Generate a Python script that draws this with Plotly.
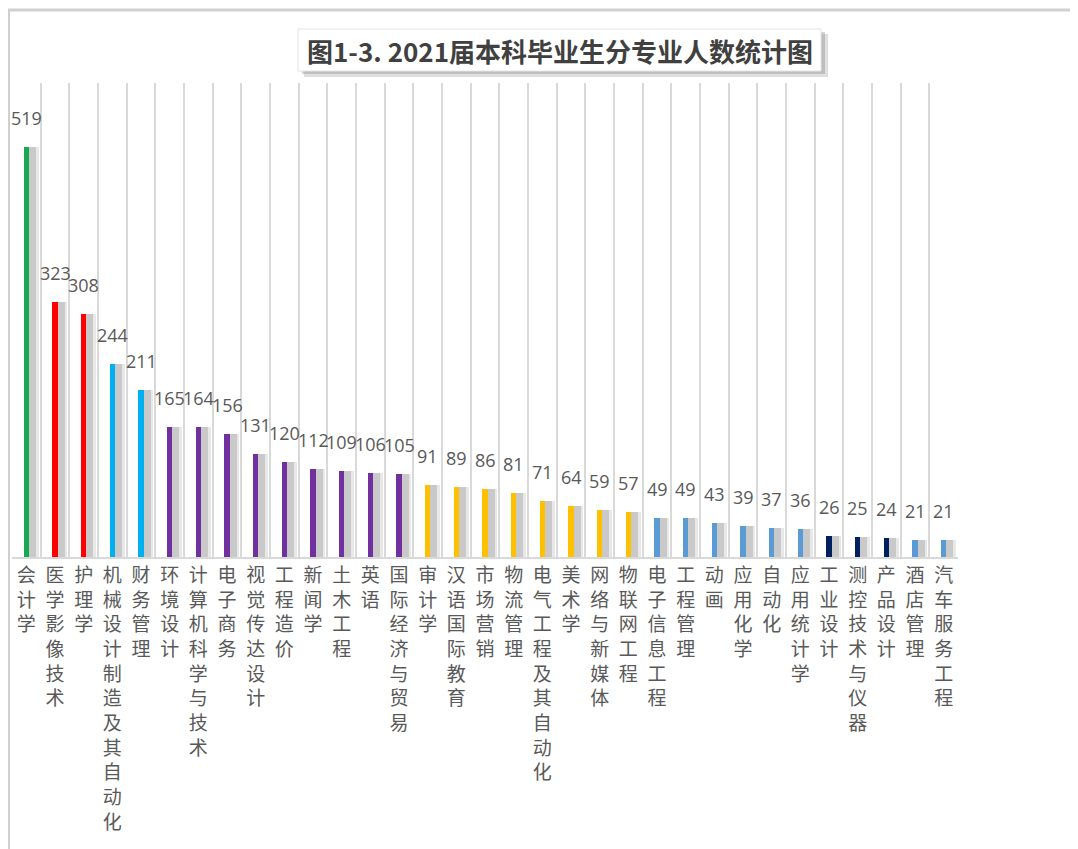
import plotly.graph_objects as go

majors = ["会计学", "医学影像技术", "护理学", "机械设计制造及其自动化", "财务管理", "环境设计",
          "计算机科学与技术", "电子商务", "视觉传达设计", "工程造价", "新闻学", "土木工程", "英语",
          "国际经济与贸易", "审计学", "汉语国际教育", "市场营销", "物流管理", "电气工程及其自动化",
          "美术学", "网络与新媒体", "物联网工程", "电子信息工程", "工程管理", "动画", "应用化学",
          "自动化", "应用统计学", "工业设计", "测控技术与仪器", "产品设计", "酒店管理", "汽车服务工程"]
counts = [519, 323, 308, 244, 211, 165, 164, 156, 131, 120, 112, 109, 106, 105, 91, 89, 86, 81,
          71, 64, 59, 57, 49, 49, 43, 39, 37, 36, 26, 25, 24, 21, 21]
groups = ["g", "r", "r", "c", "c", "p", "p", "p", "p", "p", "p", "p", "p", "p",
          "y", "y", "y", "y", "y", "y", "y", "y",
          "b", "b", "b", "b", "b", "b", "n", "n", "n", "b", "b"]
group_colors = {"g": "#17a851", "r": "#ff0000", "c": "#00b0f0", "p": "#7030a0",
                "y": "#ffc000", "b": "#5b9bd5", "n": "#002060"}
title_text = "图1-3. 2021届本科毕业生分专业人数统计图"

bar_colors = [group_colors[g] for g in groups]
tick_text = ["<br>".join(list(m)) for m in majors]

fig = go.Figure()
# soft shadows to the right of each bar
fig.add_trace(go.Bar(x=majors, y=counts, width=0.40, offset=0.03,
                     marker=dict(color="rgba(205,205,205,0.45)", line=dict(width=0)),
                     hoverinfo="skip", showlegend=False))
fig.add_trace(go.Bar(x=majors, y=counts, width=0.28, offset=0.06,
                     marker=dict(color="rgba(175,175,175,0.55)", line=dict(width=0)),
                     hoverinfo="skip", showlegend=False))
fig.add_trace(go.Bar(x=majors, y=counts, width=0.175,
                     marker=dict(color=bar_colors, line=dict(width=0)),
                     showlegend=False))

for m, v in zip(majors, counts):
    fig.add_annotation(x=m, y=v, text=str(v), showarrow=False, yanchor="bottom", yshift=15,
                       font=dict(size=18, color="#595959", family="Open Sans, Noto Sans CJK SC"))

# page body has an 8px margin, so the figure origin sits at (8, 8) in the screenshot
W, H = 1070, 841
L, R, T, B = 4, 120, 75, 292
pw, ph = W - L - R, H - T - B
OFF = 8


def px(xs):
    return (xs - OFF - L) / pw


def py(ys):
    return (H - B - (ys - OFF)) / ph


shapes = []
# outer frame lines
shapes.append(dict(type="line", xref="paper", yref="paper", x0=px(8), x1=px(1078), y0=py(10), y1=py(10),
                   line=dict(color="#d0d0d0", width=3)))
shapes.append(dict(type="line", xref="paper", yref="paper", x0=px(9), x1=px(9), y0=py(10), y1=py(849),
                   line=dict(color="#d0d0d0", width=2)))
# title box shadow + box
shapes.append(dict(type="rect", xref="paper", yref="paper", x0=px(304), x1=px(828), y0=py(34), y1=py(77),
                   fillcolor="rgba(150,150,150,0.3)", line=dict(width=0), layer="above"))
shapes.append(dict(type="rect", xref="paper", yref="paper", x0=px(302), x1=px(825), y0=py(32), y1=py(74),
                   fillcolor="rgba(130,130,130,0.35)", line=dict(width=0), layer="above"))
shapes.append(dict(type="rect", xref="paper", yref="paper", x0=px(298), x1=px(821), y0=py(29), y1=py(71),
                   fillcolor="white", line=dict(color="#e4e4e4", width=1), layer="above"))
fig.update_layout(shapes=shapes)

fig.add_annotation(xref="paper", yref="paper", x=px(560), y=py(50), text=title_text, showarrow=False,
                   xanchor="center", yanchor="middle",
                   font=dict(size=26, color="#404040", family="Noto Sans CJK SC", weight="bold"))

fig.update_layout(
    width=W, height=H,
    margin=dict(l=L, r=R, t=T, b=B, autoexpand=False),
    paper_bgcolor="white", plot_bgcolor="white",
    barmode="overlay", bargap=0,
    font=dict(family="Noto Sans CJK SC", color="#595959"),
    xaxis=dict(tickmode="array", tickvals=majors, ticktext=tick_text, tickangle=0,
               tickson="boundaries", ticks="", showgrid=True, gridcolor="#d9d9d9", gridwidth=2,
               showline=True, linecolor="#d9d9d9", linewidth=2,
               tickfont=dict(size=19, color="#595959", family="Noto Sans CJK SC"),
               automargin=False, range=[-0.5, len(majors) - 0.5]),
    yaxis=dict(range=[0, 600], showgrid=False, showticklabels=False, zeroline=False, automargin=False),
)

fig.write_html("out.html")
